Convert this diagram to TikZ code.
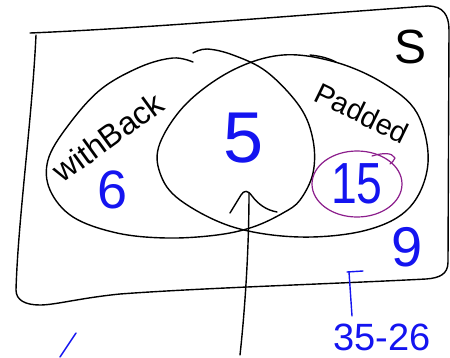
\documentclass[tikz,border=0pt]{standalone}
\usepackage{fontspec}
\setmainfont{Liberation Sans}
\definecolor{handblue}{RGB}{20,20,240}
\definecolor{handpurple}{RGB}{140,30,140}
\begin{document}
\begin{tikzpicture}[x=1pt,y=-1pt,
  pen/.style={draw=black, line width=1.4pt, line cap=round, line join=round},
  bluepen/.style={draw=handblue, line width=1.4pt, line cap=round, line join=round},
  purplepen/.style={draw=handpurple, line width=1.2pt, line cap=round, line join=round},
  bluetxt/.style={text=handblue, inner sep=0pt},
  blacktxt/.style={text=black, inner sep=0pt}]
\useasboundingbox[fill=white] (0,0) rectangle (450,357);
% universe frame
\draw[pen] (30,33) .. controls (150,28) and (300,15) .. (428,6);
\draw[pen] (428,6) .. controls (443,6) and (449,15) .. (449,30)
  -- (448,262) .. controls (448,274) and (440,278) .. (426,279)
  .. controls (330,284) and (200,288) .. (120,294)
  .. controls (80,298) and (55,305) .. (40,305)
  .. controls (25,305) and (16,300) .. (16,290)
  .. controls (18,220) and (32,120) .. (36,35);
% left set
\draw[pen] plot[smooth, tension=0.6] coordinates {(193,53) (207,49) (233,55) (267,72) (300,107) (313,140) (313,173) (300,200) (283,213) (253,227) (217,235) (167,238) (117,233) (73,217) (50,190) (48,160) (67,127) (100,90) (140,67) (173,58) (193,62)};
% right set
\draw[pen] plot[smooth cycle, tension=0.6] coordinates {(160,143) (187,103) (233,70) (283,55) (335,62) (383,83) (417,113) (428,163) (410,207) (367,230) (300,237) (233,227) (180,200) (160,173)};
\draw[pen] (310,55) .. controls (320,56) and (328,58) .. (336,62);
% purple circle
\draw[purplepen] (357,184) ellipse [x radius=45, y radius=33];
\draw[purplepen] (372,156) .. controls (382,153) and (392,152) .. (395,158) .. controls (394,161) and (392,162) .. (390,164);
% arrow
\coordinate (abot) at (240,355);
\coordinate (atop) at (249,193);
\draw[pen] (abot) .. controls (246,300) and (249,240) .. (atop);
\draw[pen] (230,213) -- (241,195) .. controls (244,190) and (248,190) .. (252,196) .. controls (258,204) and (266,210) .. (277,212);
% labels
\node[blacktxt, font=\fontsize{48}{48}\selectfont] (s) at (411,47) {S};
\node[blacktxt, font=\fontsize{32}{32}\selectfont, rotate=36] (wb) at (108,137) {withBack};
\node[blacktxt, font=\fontsize{29}{29}\selectfont, rotate=-26] (pd) at (362,113) {Padded};
\node[bluetxt, font=\fontsize{72}{72}\selectfont] (n5) at (244,138) {5};
\node[bluetxt, font=\fontsize{54}{54}\selectfont] (n6) at (113,190) {6};
\node[bluetxt, font=\fontsize{58}{58}\selectfont, xscale=0.8] (n15) at (357,184) {15};
\node[bluetxt, font=\fontsize{56}{56}\selectfont] (n9) at (407,247) {9};
\node[bluetxt, font=\fontsize{38}{38}\selectfont] (diff) at (382,337) {35-26};
% blue marks
\draw[bluepen] (349,272) -- (352,316);
\draw[bluepen] (347,272) -- (363,271);
\draw[bluepen] (76,333) -- (60,357);
\end{tikzpicture}
\end{document}
